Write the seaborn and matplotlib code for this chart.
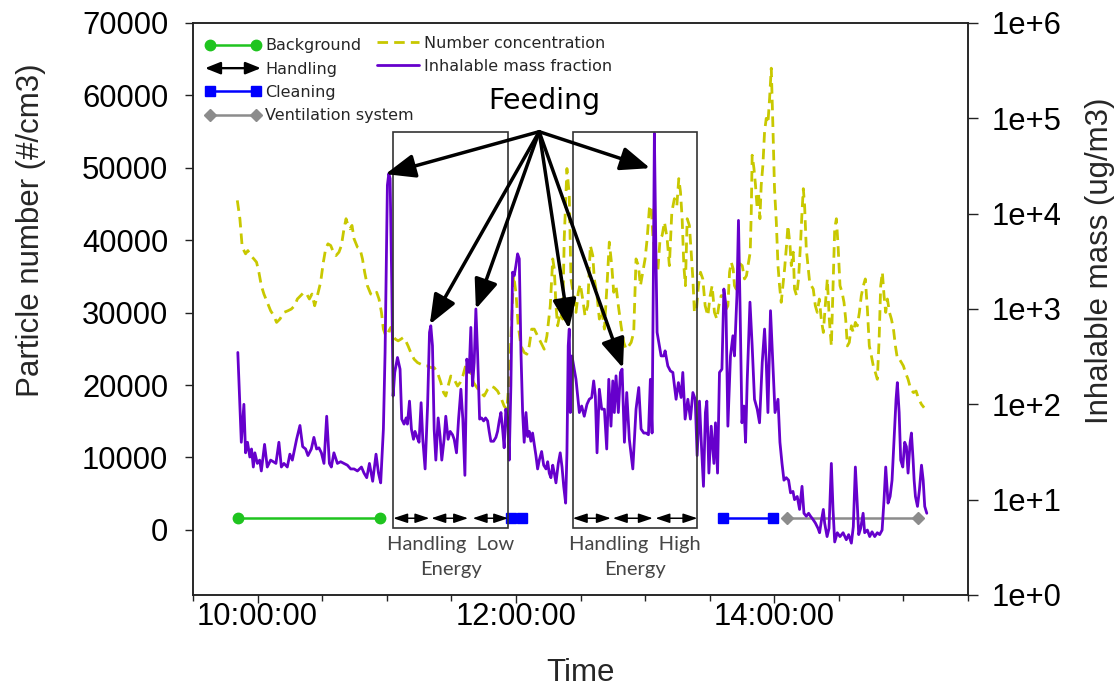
import numpy as np
import seaborn as sns
import matplotlib
matplotlib.use("Agg")
import matplotlib.pyplot as plt
import matplotlib.transforms as mtransforms
from matplotlib.lines import Line2D
from matplotlib.patches import FancyArrowPatch, Rectangle
from matplotlib.legend_handler import HandlerBase
from matplotlib.ticker import FixedLocator, FuncFormatter, NullLocator

# ---------------------------------------------------------------------------
# Inhalable mass fraction (ug/m3), time as hour of day
mass_hour = [
    9.847, 9.874, 9.894, 9.907, 9.922, 9.940, 9.953, 9.967, 9.979, 9.998,
    10.016, 10.029, 10.054, 10.075, 10.101, 10.122, 10.142, 10.165, 10.184, 10.204,
    10.230, 10.250, 10.269, 10.302, 10.328, 10.349, 10.372, 10.390, 10.416, 10.436,
    10.457, 10.475, 10.494, 10.514, 10.535, 10.556, 10.571, 10.591, 10.618, 10.643,
    10.669, 10.695, 10.721, 10.747, 10.773, 10.804, 10.824, 10.845, 10.866, 10.891,
    10.917, 10.936, 10.953, 10.974, 10.987, 11.005, 11.016, 11.026, 11.039, 11.049,
    11.062, 11.083, 11.103, 11.116, 11.134, 11.150, 11.160, 11.176, 11.191, 11.207,
    11.219, 11.233, 11.250, 11.266, 11.279, 11.297, 11.316, 11.331, 11.341, 11.354,
    11.367, 11.380, 11.398, 11.413, 11.426, 11.444, 11.457, 11.475, 11.491, 11.509,
    11.522, 11.540, 11.556, 11.574, 11.589, 11.605, 11.620, 11.638, 11.651, 11.664,
    11.677, 11.690, 11.703, 11.719, 11.734, 11.750, 11.765, 11.781, 11.793, 11.806,
    11.827, 11.845, 11.858, 11.871, 11.884, 11.897, 11.909, 11.922, 11.936, 11.948,
    11.961, 11.974, 11.987, 12.000, 12.013, 12.026, 12.039, 12.052, 12.064, 12.078,
    12.091, 12.103, 12.116, 12.129, 12.142, 12.155, 12.168, 12.181, 12.199, 12.215,
    12.233, 12.246, 12.258, 12.271, 12.285, 12.297, 12.310, 12.328, 12.343, 12.357,
    12.370, 12.385, 12.395, 12.405, 12.413, 12.421, 12.434, 12.465, 12.491, 12.509,
    12.529, 12.550, 12.568, 12.587, 12.602, 12.615, 12.628, 12.646, 12.664, 12.685,
    12.703, 12.719, 12.736, 12.750, 12.762, 12.775, 12.793, 12.809, 12.822, 12.840,
    12.858, 12.878, 12.905, 12.930, 12.951, 12.969, 12.990, 13.008, 13.026, 13.041,
    13.054, 13.064, 13.072, 13.083, 13.093, 13.111, 13.124, 13.145, 13.155, 13.176,
    13.196, 13.215, 13.240, 13.258, 13.279, 13.292, 13.310, 13.331, 13.351, 13.370,
    13.388, 13.403, 13.421, 13.434, 13.452, 13.467, 13.478, 13.494, 13.512, 13.533,
    13.545, 13.561, 13.576, 13.595, 13.610, 13.626, 13.641, 13.661, 13.680, 13.692,
    13.711, 13.723, 13.736, 13.750, 13.765, 13.778, 13.791, 13.812, 13.829, 13.847,
    13.868, 13.886, 13.907, 13.925, 13.938, 13.951, 13.971, 13.990, 14.006, 14.029,
    14.044, 14.060, 14.075, 14.093, 14.111, 14.126, 14.145, 14.157, 14.178, 14.196,
    14.215, 14.230, 14.248, 14.266, 14.281, 14.300, 14.318, 14.339, 14.351, 14.364,
    14.380, 14.390, 14.409, 14.424, 14.442, 14.455, 14.468, 14.488, 14.509, 14.533,
    14.558, 14.576, 14.597, 14.612, 14.628, 14.641, 14.654, 14.669, 14.688, 14.700,
    14.721, 14.739, 14.757, 14.778, 14.798, 14.816, 14.835, 14.850, 14.863, 14.881,
    14.897, 14.912, 14.928, 14.943, 14.953, 14.967, 14.979, 14.995, 15.010, 15.023,
    15.036, 15.052, 15.062, 15.075, 15.083, 15.093, 15.109, 15.124, 15.140, 15.153,
    15.165, 15.181,
]
mass_ugm3 = [
    350, 40, 100, 31, 40, 28, 34, 22, 31, 24,
    26, 20, 38, 22, 26, 25, 24, 40, 22, 24,
    22, 30, 26, 43, 60, 36, 34, 29, 34, 45,
    34, 35, 31, 24, 75, 24, 22, 31, 24, 25,
    24, 23, 21, 21, 20, 22, 19, 17, 24, 15.6,
    30, 19, 15, 55, 350, 19900, 26400, 23400, 1760, 122,
    216, 310, 234, 70, 62, 72, 62, 108, 55, 43,
    52, 46, 40, 104, 43, 21, 96, 569, 667, 411,
    55, 26, 72, 46, 26, 43, 75, 43, 52, 48,
    43, 31, 70, 144, 70, 18, 298, 216, 641, 156,
    275, 1000, 350, 70, 72, 67, 72, 67, 52, 41,
    41, 45, 52, 67, 82, 55, 35, 89, 70, 26,
    156, 2430, 2240, 2860, 3790, 3360, 350, 82, 40, 82,
    46, 52, 41, 50, 38, 29, 21, 26, 32, 23,
    21, 25, 19, 17, 23, 19, 15, 24, 31, 22,
    13.8, 9.2, 31, 411, 616, 82, 322, 183, 82, 96,
    75, 100, 113, 118, 176, 122, 31, 144, 89, 89,
    34, 183, 59, 176, 82, 199, 82, 216, 234, 40,
    133, 43, 21, 89, 150, 55, 50, 50, 48, 183,
    50, 2070, 69500, 4640, 569, 411, 322, 322, 364, 253,
    224, 216, 113, 169, 118, 216, 70, 113, 70, 133,
    113, 29, 108, 43, 13.8, 82, 108, 19, 59, 24,
    64, 19, 216, 234, 1620, 1080, 59, 322, 524, 322,
    1380, 8500, 923, 64, 96, 40, 183, 1180, 411, 113,
    89, 64, 275, 616, 275, 82, 960, 253, 82, 113,
    40, 24, 16, 17, 16, 11.8, 12.2, 10, 10.8, 7.9,
    13.8, 7.2, 6.7, 7.2, 6.7, 6.2, 5.7, 5.0, 4.5, 5.9,
    7.9, 5.7, 4.1, 5.0, 24, 7.9, 3.6, 4.5, 4.1, 4.5,
    3.8, 4.3, 3.5, 5.2, 22, 10, 4.3, 5.0, 7.2, 4.5,
    4.8, 4.1, 4.6, 4.1, 4.5, 4.3, 4.8, 10, 22, 9.2,
    10.8, 16, 43, 113, 169, 82, 26, 22, 40, 36,
    19, 40, 50, 26, 16, 10.8, 8.5, 12.7, 23, 16,
    8.5, 7.2,
]

# Particle number concentration (#/cm3), time as hour of day
count_hour = [
    9.843, 9.863, 9.881, 9.907, 9.925, 9.946, 9.971, 9.992, 10.010, 10.029,
    10.049, 10.075, 10.101, 10.126, 10.147, 10.173, 10.204, 10.235, 10.261, 10.287,
    10.308, 10.333, 10.359, 10.380, 10.401, 10.421, 10.442, 10.463, 10.488, 10.509,
    10.527, 10.545, 10.566, 10.587, 10.607, 10.630, 10.649, 10.669, 10.685, 10.700,
    10.716, 10.731, 10.747, 10.773, 10.793, 10.812, 10.829, 10.850, 10.876, 10.902,
    10.922, 10.940, 10.959, 10.974, 10.992, 11.010, 11.031, 11.047, 11.067, 11.088,
    11.109, 11.129, 11.147, 11.165, 11.186, 11.212, 11.238, 11.264, 11.289, 11.316,
    11.341, 11.367, 11.393, 11.419, 11.440, 11.457, 11.475, 11.496, 11.522, 11.548,
    11.568, 11.589, 11.610, 11.630, 11.651, 11.672, 11.690, 11.708, 11.729, 11.754,
    11.781, 11.806, 11.832, 11.858, 11.884, 11.909, 11.930, 11.948, 11.967, 11.982,
    12.000, 12.018, 12.039, 12.064, 12.085, 12.103, 12.122, 12.142, 12.168, 12.194,
    12.219, 12.240, 12.266, 12.285, 12.297, 12.310, 12.323, 12.343, 12.362, 12.374,
    12.395, 12.413, 12.426, 12.447, 12.465, 12.483, 12.498, 12.517, 12.535, 12.556,
    12.576, 12.595, 12.607, 12.628, 12.646, 12.664, 12.685, 12.705, 12.723, 12.742,
    12.757, 12.775, 12.793, 12.814, 12.835, 12.853, 12.874, 12.892, 12.912, 12.930,
    12.948, 12.964, 12.982, 13.000, 13.016, 13.033, 13.047, 13.060, 13.078, 13.098,
    13.116, 13.132, 13.150, 13.171, 13.188, 13.207, 13.227, 13.246, 13.261, 13.274,
    13.287, 13.300, 13.312, 13.326, 13.343, 13.357, 13.370, 13.382, 13.398, 13.413,
    13.429, 13.447, 13.465, 13.486, 13.504, 13.519, 13.537, 13.556, 13.571, 13.589,
    13.610, 13.628, 13.641, 13.654, 13.667, 13.682, 13.692, 13.705, 13.719, 13.736,
    13.752, 13.770, 13.785, 13.801, 13.814, 13.822, 13.829, 13.843, 13.855, 13.868,
    13.878, 13.889, 13.899, 13.912, 13.925, 13.938, 13.951, 13.964, 13.977, 13.990,
    14.002, 14.016, 14.029, 14.041, 14.054, 14.067, 14.080, 14.095, 14.106, 14.122,
    14.132, 14.147, 14.157, 14.173, 14.188, 14.204, 14.215, 14.225, 14.235, 14.248,
    14.261, 14.274, 14.287, 14.302, 14.318, 14.333, 14.349, 14.364, 14.380, 14.395,
    14.411, 14.426, 14.442, 14.457, 14.468, 14.481, 14.494, 14.509, 14.525, 14.540,
    14.553, 14.566, 14.581, 14.597, 14.612, 14.628, 14.643, 14.659, 14.674, 14.690,
    14.705, 14.721, 14.736, 14.752, 14.767, 14.783, 14.798, 14.812, 14.824, 14.837,
    14.850, 14.863, 14.876, 14.892, 14.907, 14.923, 14.938, 14.954, 14.969, 14.985,
    15.000, 15.016, 15.036, 15.057, 15.078, 15.098, 15.119, 15.140, 15.160,
]
count_cm3 = [
    45500, 42970, 39040, 38120, 38570, 37880, 37420, 36960, 35580, 33720,
    32570, 31420, 30260, 29560, 28650, 29110, 30030, 30260, 30490, 30950,
    31880, 32340, 32810, 32570, 31880, 32570, 30950, 32340, 34190, 36960,
    38810, 39500, 39270, 38350, 37880, 38350, 39270, 41580, 42970, 42040,
    41580, 42040, 40190, 39040, 38810, 37420, 35580, 33720, 32570, 32340,
    32810, 31880, 30030, 27720, 26790, 27260, 27960, 26790, 26330, 26100,
    26330, 26570, 26100, 25400, 24490, 23560, 23100, 22870, 22630, 22630,
    22410, 22410, 21720, 20330, 18950, 18480, 19860, 21250, 20790, 19860,
    20330, 21250, 22630, 23100, 21720, 20330, 19860, 19400, 18950, 18480,
    19400, 19860, 19640, 19170, 18250, 17090, 16630, 20790, 29110, 35110,
    32810, 28180, 25400, 24490, 24260, 25400, 27720, 27720, 26790, 25880,
    24950, 26790, 30950, 37420, 36040, 30950, 28180, 30030, 29110, 40190,
    49900, 46200, 34650, 32340, 30030, 32810, 33960, 31880, 29560, 30950,
    39270, 37880, 34650, 32340, 29110, 30490, 27720, 33720, 39740, 36490,
    32810, 33720, 30950, 28180, 25880, 24950, 25400, 25880, 27260, 37420,
    36490, 33720, 35580, 37420, 40190, 44350, 44810, 40650, 37880, 35580,
    40190, 40650, 42510, 40190, 36490, 43890, 45740, 44810, 48510, 46670,
    42970, 36490, 33720, 42970, 42040, 38350, 34650, 30030, 30490, 33720,
    35580, 34650, 30950, 29560, 32340, 33720, 30030, 29110, 30950, 32340,
    32340, 30490, 30950, 35580, 36960, 36040, 33720, 33260, 34650, 36730,
    36490, 34650, 35110, 36960, 38350, 43890, 51740, 49900, 47580, 44350,
    46670, 42970, 47580, 50350, 54980, 56830, 56130, 59600, 63760, 55440,
    47120, 42510, 36490, 33720, 31420, 33720, 36040, 39270, 42040, 39270,
    36490, 38350, 33260, 32340, 34650, 39740, 43890, 47120, 44810, 38810,
    36490, 34190, 33720, 33260, 30950, 30030, 31880, 29110, 27260, 30950,
    34650, 29110, 25400, 34650, 41580, 42970, 39270, 33720, 32810, 31420,
    29110, 25400, 25880, 28180, 27260, 28650, 28180, 30030, 32340, 33720,
    34650, 30490, 25400, 24020, 22630, 21720, 20790, 26330, 33720, 35580,
    32340, 30030, 31880, 30030, 29110, 27720, 25400, 23560, 23560, 23100,
    22630, 21720, 20790, 19400, 18950, 19170, 18020, 17330, 16870,
]

# Activity periods (start hour, end hour)
background_period = (9.85, 10.95)
handling_low_periods = [(11.05, 11.33), (11.345, 11.63), (11.665, 11.94)]
handling_high_periods = [(12.44, 12.735), (12.75, 13.06), (13.08, 13.405)]
cleaning_periods = [(11.96, 12.05), (13.60, 13.99)]
ventilation_period = (14.10, 15.11)
activity_level = 1600

# Feeding events pointed out on the mass curve (hour, ug/m3)
feeding_hour = [10.99, 11.333, 11.690, 12.411, 12.829, 13.039]
feeding_mass = [26000, 690, 1000, 620, 240, 30000]
feeding_origin_hour = 12.18

# Colours
C_COUNT = "#c8c800"
C_MASS = "#6600cc"
C_BACK = "#1fc41f"
C_CLEAN = "#0000ff"
C_VENT = "#8c8c8c"

LINE_W = 2.0
DASHES = [3.8, 2.2]

# ---------------------------------------------------------------------------
sns.set_style("ticks")
plt.rcParams["font.family"] = ["Liberation Sans", "DejaVu Sans"]
plt.rcParams["axes.edgecolor"] = "#222222"
plt.rcParams["axes.linewidth"] = 1.1

fig = plt.figure(figsize=(11.18, 6.86), dpi=100)
ax = fig.add_axes([193 / 1118, 1 - 595 / 686, 775 / 1118, 572 / 686])
ax2 = ax.twinx()

# number concentration on the left axis
sns.lineplot(x=count_hour, y=count_cm3, ax=ax, color=C_COUNT, linewidth=LINE_W,
             linestyle="--", sort=False)
ax.lines[-1].set_dashes(DASHES)

# inhalable mass on the right (log) axis
sns.lineplot(x=mass_hour, y=mass_ugm3, ax=ax2, color=C_MASS, linewidth=LINE_W,
             sort=False)

# activity bars along the bottom
ax.plot(background_period, [activity_level] * 2, color=C_BACK, lw=1.8,
        marker="o", ms=7.5, zorder=3)
for p in cleaning_periods:
    ax.plot(p, [activity_level] * 2, color=C_CLEAN, lw=1.8, marker="s", ms=7.5,
            zorder=3)
ax.plot(ventilation_period, [activity_level] * 2, color=C_VENT, lw=1.8,
        marker="D", ms=6.5, zorder=3)
for t0, t1 in handling_low_periods + handling_high_periods:
    ax.annotate("", xy=(t1, activity_level), xytext=(t0, activity_level),
                arrowprops=dict(arrowstyle="<|-|>,head_length=0.9,head_width=0.3",
                                mutation_scale=9.5, lw=1.1, color="black",
                                shrinkA=0, shrinkB=0), zorder=3)

# axes limits and ticks
ax.set_xlim(9.5, 15.5)
ax.set_ylim(-9000, 70000)
ax.yaxis.set_major_locator(FixedLocator(np.arange(0, 70001, 10000)))
ax.xaxis.set_major_locator(FixedLocator([10, 12, 14]))
ax.xaxis.set_minor_locator(FixedLocator(np.arange(9.5, 15.51, 0.5)))
ax.xaxis.set_major_formatter(FuncFormatter(lambda v, p: f"{int(round(v)):02d}:00:00"))

ax2.set_yscale("log")
ax2.set_ylim(1, 1e6)
ax2.yaxis.set_major_locator(FixedLocator([10.0 ** k for k in range(7)]))
ax2.yaxis.set_minor_locator(NullLocator())
ax2.yaxis.set_major_formatter(FuncFormatter(lambda v, p: f"1e+{int(round(np.log10(v)))}"))

TICK_FS = 22.3
ax.tick_params(axis="y", direction="out", length=5.8, width=1, pad=12,
               labelsize=TICK_FS, colors="#222222", labelcolor="black")
ax.tick_params(axis="x", which="major", direction="out", length=6, width=1,
               pad=-1, labelsize=TICK_FS, colors="#222222", labelcolor="black")
ax.tick_params(axis="x", which="minor", direction="out", length=4, width=1,
               colors="#222222")
ax2.tick_params(axis="y", direction="out", length=7, width=1, pad=10,
                labelsize=TICK_FS, colors="#222222", labelcolor="black")
for a in (ax, ax2):
    for s in a.spines.values():
        s.set_visible(True)

LABEL_FS = 22.5
ax.set_xlabel("Time", fontsize=LABEL_FS)
ax.xaxis.set_label_coords(0.5, -0.11)
ax.set_ylabel("Particle number (#/cm3)", fontsize=LABEL_FS)
ax.yaxis.set_label_coords(-0.19, 0.638)
ax2.set_ylabel("Inhalable mass (ug/m3)", fontsize=LABEL_FS)
ax2.yaxis.set_label_coords(1.151, 0.584)

# handling boxes with their captions
blend = mtransforms.blended_transform_factory(ax2.transData, ax2.transAxes)
box_bottom, box_top = 0.117, 0.81
for periods, caption in ((handling_low_periods, "Handling  Low\nEnergy"),
                         (handling_high_periods, "Handling  High\nEnergy")):
    x0 = periods[0][0]
    x1 = periods[-1][1]
    ax2.add_patch(Rectangle((x0, box_bottom), x1 - x0, box_top - box_bottom,
                            transform=blend, fill=False, ec="#333333", lw=1.2,
                            zorder=4))
    ax2.text((x0 + x1) / 2, 0.104, caption, transform=blend, ha="center",
             va="top", fontsize=14.5, family="Lato", color="#454545",
             linespacing=1.6)

# feeding arrows
for h, m in zip(feeding_hour, feeding_mass):
    ax2.annotate("", xy=(h, m), xycoords="data",
                 xytext=(feeding_origin_hour, box_top),
                 textcoords=("data", "axes fraction"),
                 arrowprops=dict(arrowstyle="-|>,head_length=1.0,head_width=0.4",
                                 mutation_scale=18, lw=2.5, color="black",
                                 shrinkA=0, shrinkB=0), zorder=5)
ax2.text(12.221, 0.864, "Feeding", transform=blend, ha="center", va="center",
         fontsize=20.5, family="DejaVu Sans", color="black")


# legends
class DoubleArrowHandler(HandlerBase):
    def create_artists(self, legend, orig_handle, xdescent, ydescent, width,
                       height, fontsize, trans):
        y = height / 2.0 - ydescent
        arrow = FancyArrowPatch((-xdescent, y), (-xdescent + width, y),
                                arrowstyle="<|-|>,head_length=0.8,head_width=0.32",
                                mutation_scale=fontsize, color="black", lw=1.7,
                                shrinkA=0, shrinkB=0, transform=trans)
        return [arrow]


h_back = Line2D([], [], color=C_BACK, lw=1.8, marker="o", ms=7.5)
h_hand = Line2D([], [], color="black")
h_clean = Line2D([], [], color=C_CLEAN, lw=1.8, marker="s", ms=7.5)
h_vent = Line2D([], [], color=C_VENT, lw=1.8, marker="D", ms=6.5)
leg1 = ax2.legend([h_back, h_hand, h_clean, h_vent],
                  ["Background", "Handling", "Cleaning", "Ventilation system"],
                  handler_map={h_hand: DoubleArrowHandler()},
                  loc="upper left", bbox_to_anchor=(0.0155, 0.973),
                  frameon=False, numpoints=2, handlelength=3.5,
                  handletextpad=0.25, labelspacing=0.52, borderpad=0,
                  borderaxespad=0, prop={"family": "DejaVu Sans", "size": 11.5})
ax2.add_artist(leg1)

h_count = Line2D([], [], color=C_COUNT, lw=LINE_W, linestyle="--", dashes=DASHES)
h_mass = Line2D([], [], color=C_MASS, lw=LINE_W)
ax2.legend([h_count, h_mass], ["Number concentration", "Inhalable mass fraction"],
           loc="upper left", bbox_to_anchor=(0.2374, 0.978), frameon=False,
           handlelength=2.6, handletextpad=0.35, labelspacing=0.52, borderpad=0,
           borderaxespad=0, prop={"family": "DejaVu Sans", "size": 11.5})

fig.savefig("out.png", dpi=100)
